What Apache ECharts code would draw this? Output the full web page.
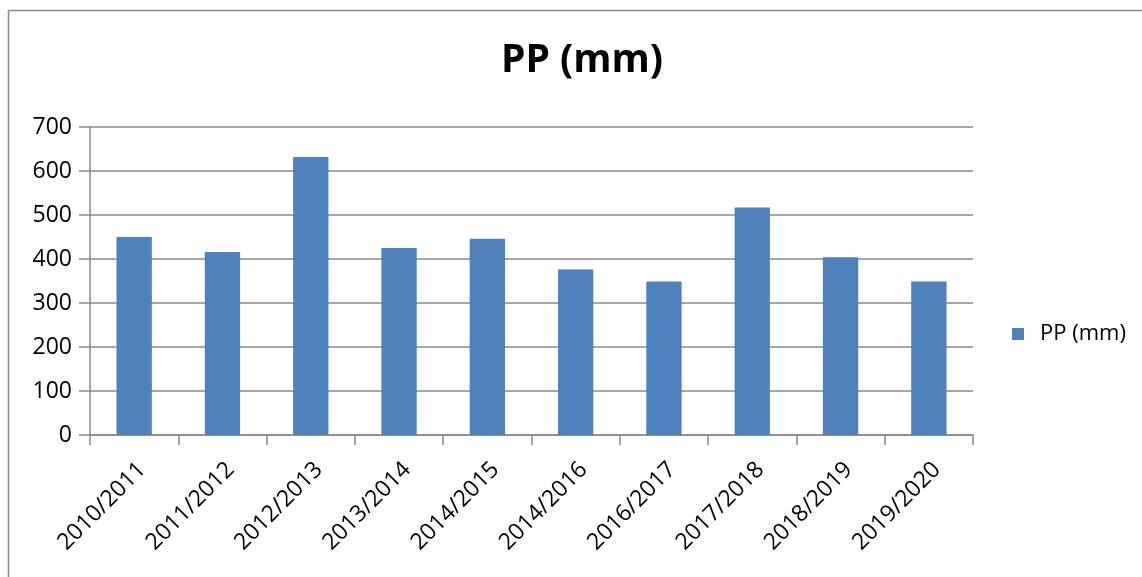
<!DOCTYPE html>
<html><head><meta charset="utf-8">
<script src="https://cdn.jsdelivr.net/npm/echarts@6/dist/echarts.min.js"></script>
<style>html,body{margin:0;padding:0;background:#fff}#c{width:1142px;height:577px}</style>
</head><body><div id="c"></div>
<script>
const categories = ['2010/2011','2011/2012','2012/2013','2013/2014','2014/2015','2014/2016','2016/2017','2017/2018','2018/2019','2019/2020'];
const ppValues = [450, 416, 632, 425, 446, 376, 349, 517, 404, 349];
const seriesName = 'PP (mm)';
const titleText = 'PP (mm)';
const yTicks = {min: 0, max: 700, interval: 100};

const chart = echarts.init(document.getElementById('c'), null, {renderer: 'canvas'});
const font = '"Open Sans", "Liberation Sans", sans-serif';
chart.setOption({
  animation: false,
  backgroundColor: '#fff',
  graphic: [{
    type: 'polyline', silent: true,
    shape: {points: [[8.5, 577], [8.5, 10.5], [1142, 10.5]]},
    style: {stroke: '#8a8a8a', lineWidth: 1.5, fill: null}
  }],
  title: {
    text: titleText, left: 577, top: 36, textAlign: 'center',
    textStyle: {fontFamily: font, fontSize: 39, fontWeight: 'bold', color: '#000'}
  },
  legend: {
    data: [seriesName], left: 1007, top: 318, orient: 'vertical',
    icon: 'rect', itemWidth: 12, itemHeight: 12, itemGap: 8,
    textStyle: {fontFamily: font, fontSize: 22, color: '#000', padding: [0, 0, 0, 11]}
  },
  grid: {left: 90, right: 169, top: 127, bottom: 142, containLabel: false},
  xAxis: {
    type: 'category', data: categories, boundaryGap: true,
    axisLine: {lineStyle: {color: '#8a8a8a', width: 1.5}},
    axisTick: {show: true, alignWithLabel: false, length: 10, lineStyle: {color: '#8a8a8a', width: 1.5}},
    axisLabel: {rotate: 45, margin: 23, verticalAlign: 'top', fontFamily: font, fontSize: 23, color: '#000', interval: 0}
  },
  yAxis: {
    type: 'value', min: yTicks.min, max: yTicks.max, interval: yTicks.interval,
    axisLine: {show: true, lineStyle: {color: '#8a8a8a', width: 1.5}},
    axisTick: {show: true, length: 11, lineStyle: {color: '#8a8a8a', width: 1.5}},
    splitLine: {lineStyle: {color: '#8a8a8a', width: 1.5}},
    axisLabel: {margin: 18, fontFamily: font, fontSize: 23, color: '#000'}
  },
  series: [{
    name: seriesName, type: 'bar', data: ppValues,
    barCategoryGap: '60%',
    itemStyle: {color: '#4F81BD'}
  }]
});
</script></body></html>
